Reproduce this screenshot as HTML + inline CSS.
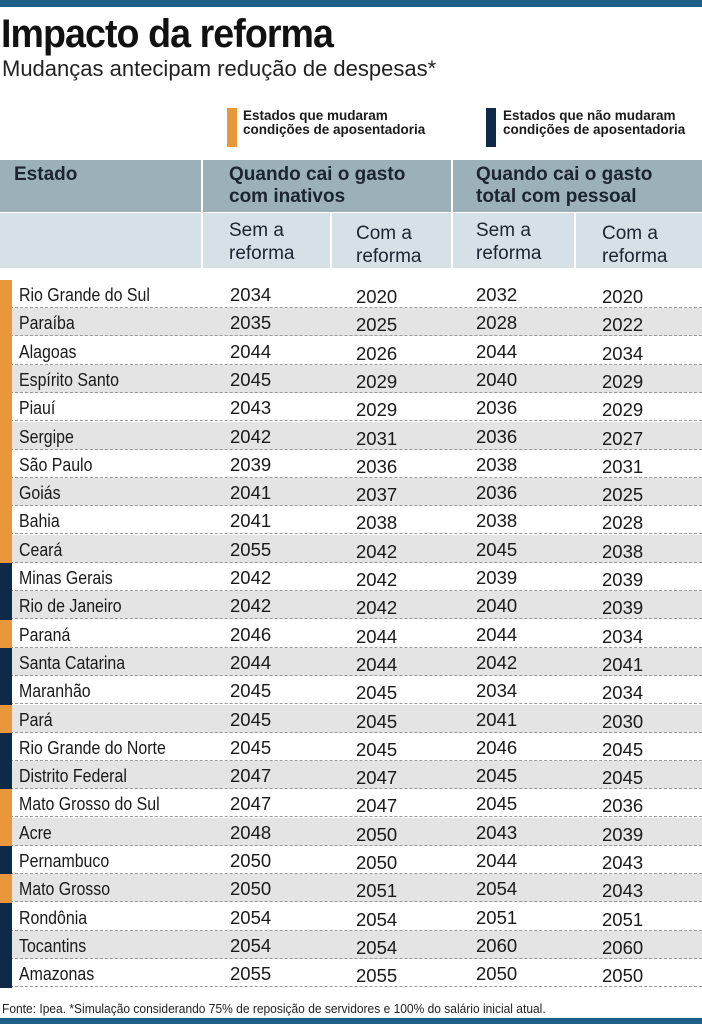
<!DOCTYPE html>
<html><head><meta charset="utf-8">
<style>
body{margin:0;width:702px;height:1024px;overflow:hidden;background:#fff;font-family:"Liberation Sans",sans-serif;color:#1a1a1a;position:relative}
.abs{position:absolute}
.topbar{left:0;top:0;width:702px;height:7px;background:#1d5f86}
.botbar{left:0;top:1018px;width:702px;height:6px;background:#1d5f86}
h1{position:absolute;left:1px;top:12px;margin:0;font-size:40px;font-weight:bold;letter-spacing:-1px;color:#111;transform:scaleX(0.94);transform-origin:left top;white-space:nowrap}
.sub{left:2px;top:56px;font-size:22px;color:#222}
.leg{font-size:13.5px;font-weight:bold;line-height:14px;color:#1a1a1a}
.sw{width:10px;height:39px}
.h1r{left:0;top:160px;width:702px;height:52px;background:#9cb0b9}
.h2r{left:0;top:213px;width:702px;height:55px;background:#d5e0e7}
.vsep{width:2px;background:#fff}
.ht{font-size:19px;font-weight:bold;line-height:22px;color:#1a2530}
.st{font-size:19px;line-height:23px;color:#1a2530}
.row{left:0;width:702px;height:28px;border-bottom:1px dashed #9a9a9a;box-sizing:border-box}
.cell{font-size:18.5px;top:4px;white-space:nowrap}
.name{transform:scaleX(0.86);transform-origin:left top}
.foot{left:2px;top:1002px;font-size:12.5px;color:#222;white-space:nowrap;transform:scaleX(0.96);transform-origin:left top}
</style></head><body>
<div class="abs topbar"></div>
<h1>Impacto da reforma</h1>
<div class="abs sub">Mudanças antecipam redução de despesas*</div>

<div class="abs sw" style="left:227px;top:108px;background:#e8973a"></div>
<div class="abs leg" style="left:243px;top:109px">Estados que mudaram<br>condições de aposentadoria</div>
<div class="abs sw" style="left:486px;top:108px;background:#0f2a48"></div>
<div class="abs leg" style="left:503px;top:109px">Estados que não mudaram<br>condições de aposentadoria</div>

<div class="abs h1r"></div>
<div class="abs h2r"></div>
<div class="abs vsep" style="left:201px;top:160px;height:108px"></div>
<div class="abs vsep" style="left:451px;top:160px;height:108px"></div>
<div class="abs vsep" style="left:330px;top:213px;height:55px"></div>
<div class="abs vsep" style="left:574px;top:213px;height:55px"></div>
<div class="abs ht" style="left:14px;top:164px">Estado</div>
<div class="abs ht" style="left:229px;top:164px">Quando cai o gasto<br>com inativos</div>
<div class="abs ht" style="left:476px;top:164px">Quando cai o gasto<br>total com pessoal</div>
<div class="abs st" style="left:229px;top:219px">Sem a<br>reforma</div>
<div class="abs st" style="left:356px;top:222px">Com a<br>reforma</div>
<div class="abs st" style="left:476px;top:219px">Sem a<br>reforma</div>
<div class="abs st" style="left:602px;top:222px">Com a<br>reforma</div>

<div id="rows"></div>
<div class="abs foot">Fonte: Ipea. *Simulação considerando 75% de reposição de servidores e 100% do salário inicial atual.</div>
<div class="abs botbar"></div>

<script>
const states=["Rio Grande do Sul","Paraíba","Alagoas","Espírito Santo","Piauí","Sergipe","São Paulo","Goiás","Bahia","Ceará","Minas Gerais","Rio de Janeiro","Paraná","Santa Catarina","Maranhão","Pará","Rio Grande do Norte","Distrito Federal","Mato Grosso do Sul","Acre","Pernambuco","Mato Grosso","Rondônia","Tocantins","Amazonas"];
const changed=[1,1,1,1,1,1,1,1,1,1,0,0,1,0,0,1,0,0,1,1,0,1,0,0,0];
const inativosSem=[2034,2035,2044,2045,2043,2042,2039,2041,2041,2055,2042,2042,2046,2044,2045,2045,2045,2047,2047,2048,2050,2050,2054,2054,2055];
const inativosCom=[2020,2025,2026,2029,2029,2031,2036,2037,2038,2042,2042,2042,2044,2044,2045,2045,2045,2047,2047,2050,2050,2051,2054,2054,2055];
const pessoalSem=[2032,2028,2044,2040,2036,2036,2038,2036,2038,2045,2039,2040,2044,2042,2034,2041,2046,2045,2045,2043,2044,2054,2051,2060,2050];
const pessoalCom=[2020,2022,2034,2029,2029,2027,2031,2025,2028,2038,2039,2039,2034,2041,2034,2030,2045,2045,2036,2039,2043,2043,2051,2060,2050];
const top0=280,rh=28.3;
const cols=[[inativosSem,230,4],[inativosCom,356,6],[pessoalSem,476,4],[pessoalCom,602,6]];
const host=document.getElementById('rows');
states.forEach((s,i)=>{
  const r=document.createElement('div');
  r.className='abs row';
  r.style.top=(top0+i*rh)+'px';
  r.style.height=Math.round(rh)+'px';
  r.style.background=i%2?'#e4e4e4':'#fff';
  
  
  const b=document.createElement('div');
  b.className='abs';
  b.style.cssText='left:0;top:0;width:12px;height:29px;background:'+(changed[i]?'#e8973a':'#0f2a48');
  
  
  r.appendChild(b);
  const n=document.createElement('div');
  n.className='abs cell name';
  n.style.left='19px';
  n.textContent=s;
  
  
  r.appendChild(n);
  cols.forEach(([arr,x,dy])=>{
    const c=document.createElement('div');
    c.className='abs cell';
    c.style.left=x+'px';
    c.style.top=dy+'px';
    c.textContent=arr[i];
    
    
    r.appendChild(c);
  });
  host.appendChild(r);
});
</script>
</body></html>
